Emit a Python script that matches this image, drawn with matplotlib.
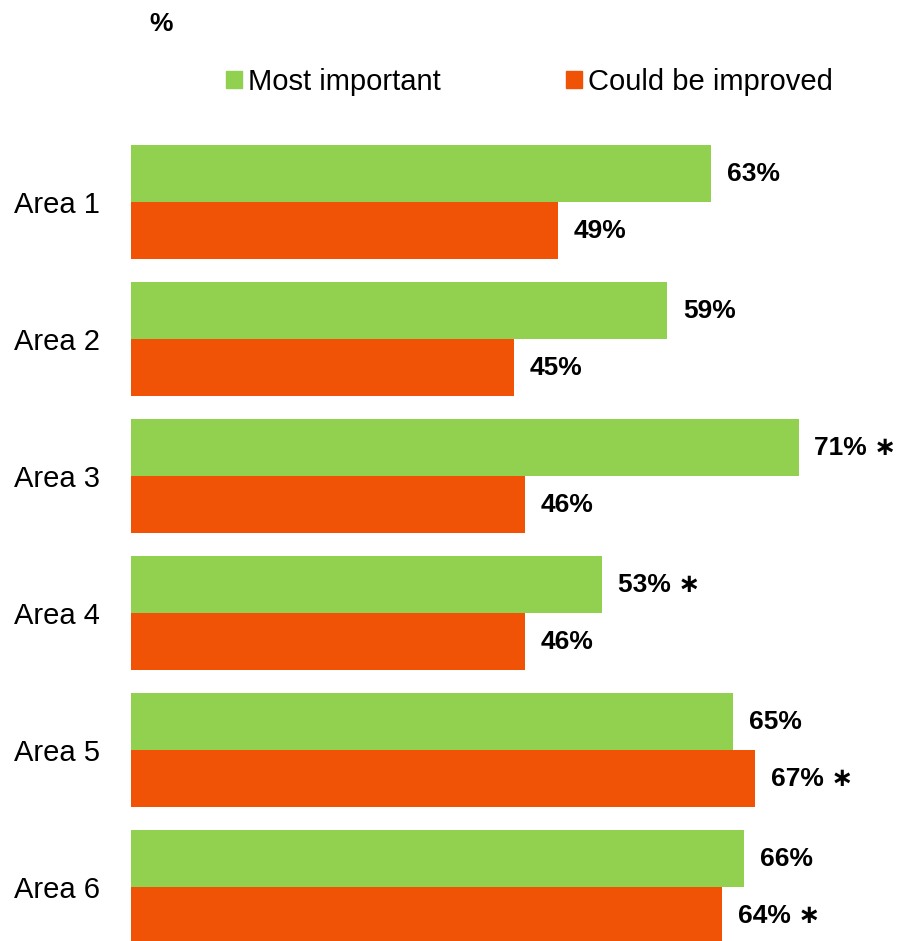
import matplotlib.pyplot as plt
from matplotlib.patches import Patch

plt.rcParams['font.family'] = ['Liberation Sans', 'DejaVu Sans']

areas = ['Area 1', 'Area 2', 'Area 3', 'Area 4', 'Area 5', 'Area 6']
most_important = [63, 59, 71, 53, 65, 66]
could_improve = [49, 45, 46, 46, 67, 64]
star_most = [False, False, True, True, False, False]
star_improve = [False, False, False, False, True, True]

green = '#92D050'
orange = '#F05206'

fig = plt.figure(figsize=(8.97, 9.41), dpi=100)
ax = fig.add_axes([131 / 897, 0, 1 - 131 / 897, 808 / 941])

h = 0.416
ypos = list(range(len(areas)))
ax.barh([y - h / 2 for y in ypos], most_important, height=h, color=green)
ax.barh([y + h / 2 for y in ypos], could_improve, height=h, color=orange)

for y, v, s in zip(ypos, most_important, star_most):
    ax.annotate(f'{v}%' + (' \u2217' if s else ''), (v, y - h / 2),
                xytext=(11.5, 0), textcoords='offset points',
                va='center', ha='left', fontsize=19, fontweight='bold')
for y, v, s in zip(ypos, could_improve, star_improve):
    ax.annotate(f'{v}%' + (' \u2217' if s else ''), (v, y + h / 2),
                xytext=(11.5, 0), textcoords='offset points',
                va='center', ha='left', fontsize=19, fontweight='bold')

ax.set_xlim(10, 80)
ax.set_ylim(5.394, -0.504)
ax.set_yticks(ypos)
ax.set_yticklabels(areas, fontsize=21)
ax.tick_params(axis='y', length=0, pad=22.5)
ax.xaxis.set_visible(False)
for sp in ax.spines.values():
    sp.set_visible(False)

fig.text(149 / 897, 1 - 24 / 941, '%', fontsize=19, fontweight='bold',
         ha='left', va='center')

handles = [Patch(color=green, label='Most important'),
           Patch(color=orange, label='Could be improved')]
fig.legend(handles=handles, loc='center left',
           bbox_to_anchor=(226 / 897, 1 - 82 / 941), ncol=2, frameon=False,
           fontsize=21, handlelength=0.55, handleheight=0.55,
           handletextpad=0.2, columnspacing=4.3, borderpad=0, borderaxespad=0)

fig.savefig('out.png', dpi=100)
